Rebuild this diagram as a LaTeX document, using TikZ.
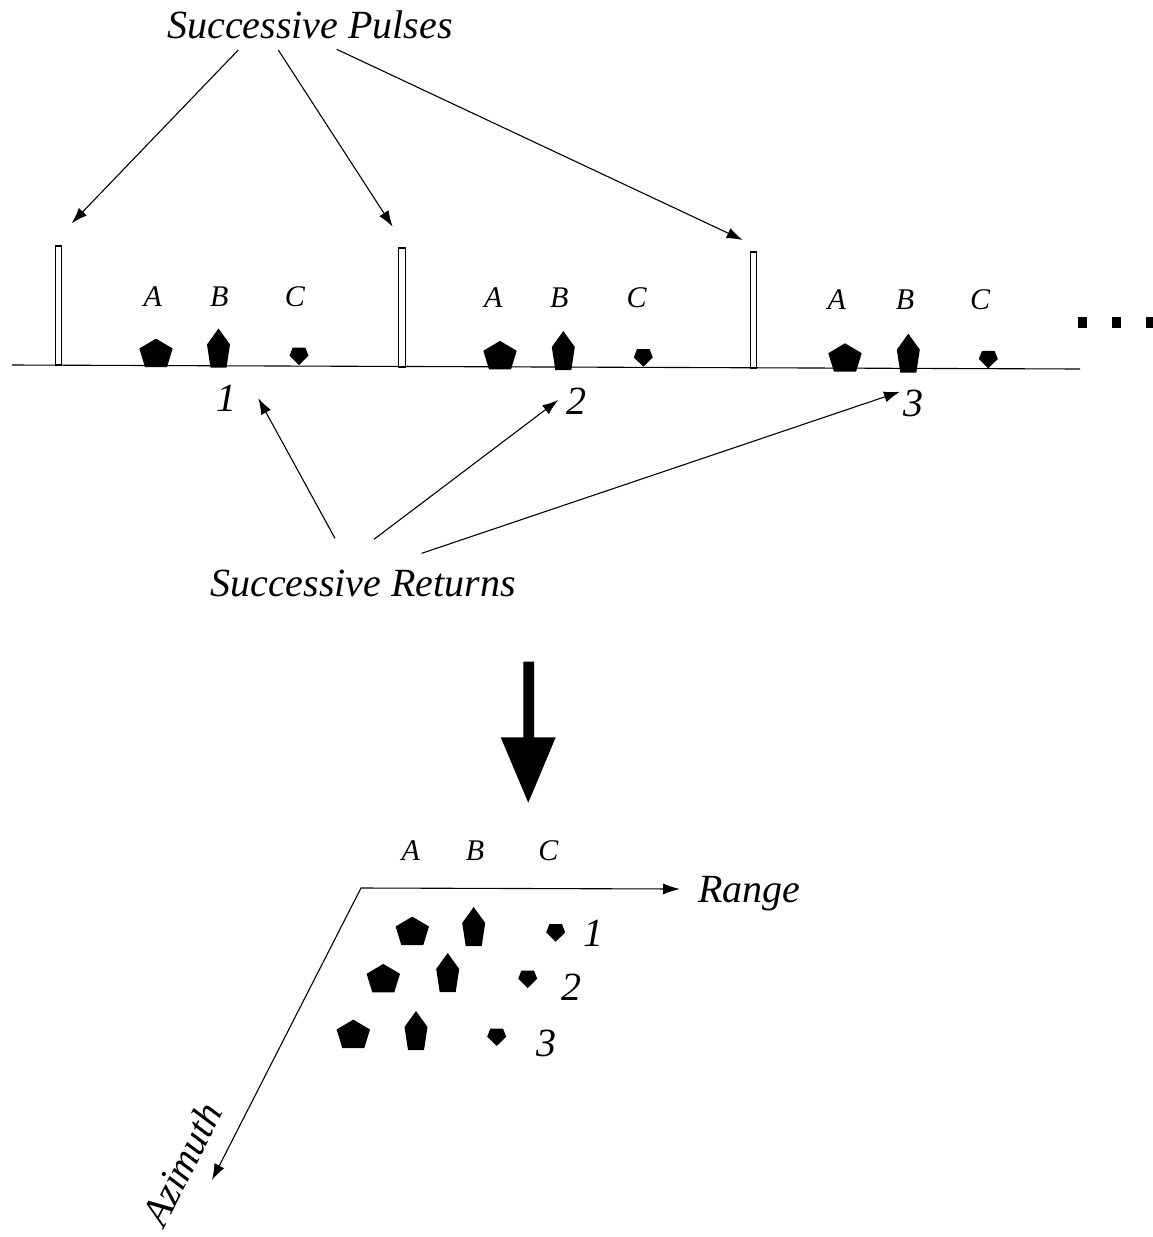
\documentclass[tikz,border=0pt]{standalone}
\usepackage{fontspec}
\setmainfont{Liberation Serif}
\usetikzlibrary{arrows.meta}
\begin{document}
\begin{tikzpicture}[x=0.5pt,y=-0.5pt,
  pointer/.style={line width=0.55pt,-{Latex[length=8pt,width=5.5pt]}},
  axis/.style={line width=0.55pt,{Latex[length=8pt,width=5.5pt]}-{Latex[length=8.5pt,width=5.5pt]}},
  title/.style={font=\fontsize{20}{22}\selectfont\itshape,inner sep=0pt,anchor=base},
  letter/.style={font=\fontsize{15}{17}\selectfont\itshape,inner sep=0pt,anchor=base},
  index/.style={font=\fontsize{20}{22}\selectfont\itshape,inner sep=0pt,anchor=base},
  pulsebar/.style={draw,line width=0.6pt,fill=white},
  dotmark/.style={fill=black},
  bigpent/.pic={\fill (-11,0) -- (11,0) -- (16.7,-18.5) -- (0,-28.4) -- (-16.7,-18.5) -- cycle;},
  tallpent/.pic={\fill (-8,0) -- (8,0) -- (11.5,-23) -- (0,-39) -- (-11.5,-23) -- cycle;},
  smallpent/.pic={\fill (0,0) -- (9.5,-9.3) -- (6.3,-17.5) -- (-6.3,-17.5) -- (-9.5,-9.3) -- cycle;}]
\useasboundingbox (0,0) rectangle (1152,1237);

% ---- titles ----
\node[title] (pulses) at (310,38) {Successive Pulses};
\node[title] (returns) at (363,596) {Successive Returns};

% ---- time line with transmitted pulses ----
\coordinate (lineL) at (12,365);
\coordinate (lineR) at (1080,369);
\draw[line width=0.55pt] (lineL) -- (lineR);
\draw[pulsebar] (55.3,246) rectangle (61.7,365);
\draw[pulsebar] (398.8,248) rectangle (405.2,367);
\draw[pulsebar] (750.3,252) rectangle (756.7,368);

% ---- echoes after each pulse ----
\foreach \ax/\ay/\bx/\by/\cx/\cy in {156/367/218.5/367.5/299/365,
                                      500/369.3/563.3/370/643.3/366.7,
                                      845/371.7/908.3/372.7/988.3/368.3}{
  \pic at (\ax,\ay) {bigpent};
  \pic at (\bx,\by) {tallpent};
  \pic at (\cx,\cy) {smallpent};
}
\node[letter] (a1) at (152.7,306) {A};
\node[letter] (b1) at (219.3,306) {B};
\node[letter] (c1) at (295,306) {C};
\node[letter] (a2) at (493.3,307.3) {A};
\node[letter] (b2) at (559.3,307.3) {B};
\node[letter] (c2) at (636.7,307.3) {C};
\node[letter] (a3) at (836.7,309) {A};
\node[letter] (b3) at (905,309) {B};
\node[letter] (c3) at (980,309) {C};

\node[index] (n1) at (226.7,411) {1};
\node[index] (n2) at (576.7,414) {2};
\node[index] (n3) at (913.3,416) {3};

% continuation marks
\fill[dotmark] (1078.3,317.3) rectangle (1086.7,328.3);
\fill[dotmark] (1111.7,317.3) rectangle (1120.7,328.3);
\fill[dotmark] (1146,317.3) rectangle (1155,328.3);

% ---- pointers ----
\coordinate (ps1) at (238.3,50);
\coordinate (ps2) at (278.3,50);
\coordinate (ps3) at (336.7,49.3);
\coordinate (pt1) at (71.7,223.3);
\coordinate (pt2) at (392.7,226.7);
\coordinate (pt3) at (742.7,240);
\draw[pointer] (ps1) -- (pt1);
\draw[pointer] (ps2) -- (pt2);
\draw[pointer] (ps3) -- (pt3);

\coordinate (rs1) at (335,538.3);
\coordinate (rs2) at (374,539.3);
\coordinate (rs3) at (421.7,553.3);
\coordinate (rt1) at (258.3,398.3);
\coordinate (rt2) at (558.3,400);
\coordinate (rt3) at (900,391.7);
\draw[pointer] (rs1) -- (rt1);
\draw[pointer] (rs2) -- (rt2);
\draw[pointer] (rs3) -- (rt3);

% ---- big downward arrow ----
\fill (523.3,661.7) -- (534,661.7) -- (534,737.3) -- (555.7,737.3)
  -- (528.3,802.7) -- (500.7,737.3) -- (523.3,737.3) -- cycle;

% ---- range / azimuth image ----
\coordinate (corner) at (361,888);
\coordinate (rangetip) at (680,889);
\coordinate (aztip) at (212,1180);
\draw[axis] (aztip) -- (corner) -- (rangetip);
\node[title,anchor=base west] (range) at (698,902) {Range};
\node[title,anchor=center,rotate=63] (azimuth) at (182,1164) {Azimuth};

\node[letter] (ga) at (410.7,860) {A};
\node[letter] (gb) at (475,860) {B};
\node[letter] (gc) at (548.3,860) {C};

\pic at (412.3,945) {bigpent};
\pic at (473.7,946) {tallpent};
\pic at (555.7,941.7) {smallpent};
\pic at (383.3,992.3) {bigpent};
\pic at (447.7,992) {tallpent};
\pic at (527.7,988) {smallpent};
\pic at (353.3,1048) {bigpent};
\pic at (416,1050) {tallpent};
\pic at (496.7,1046) {smallpent};

\node[index] (g1) at (593.3,946.7) {1};
\node[index] (g2) at (571.7,1000) {2};
\node[index] (g3) at (546.7,1056.7) {3};
\end{tikzpicture}
\end{document}
